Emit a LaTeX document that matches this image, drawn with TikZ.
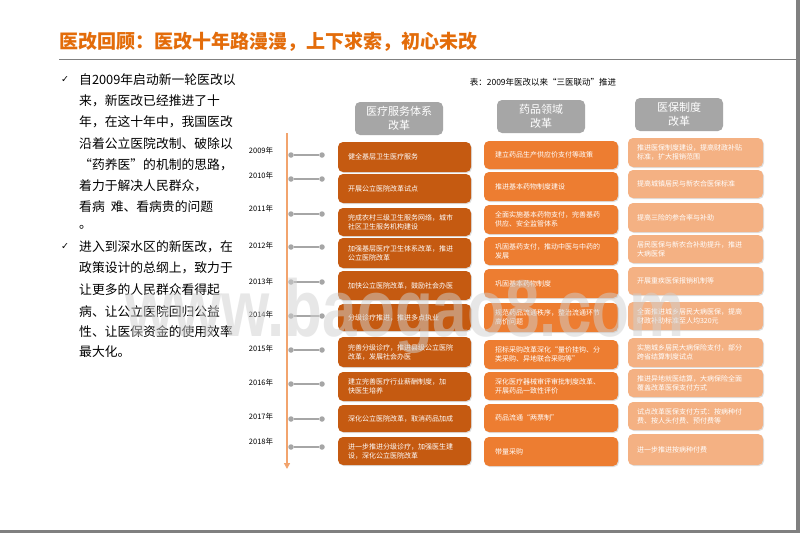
\documentclass[tikz,border=0pt]{standalone}
\usepackage{fontspec}
\setmainfont{Noto Sans CJK SC}
\newfontfamily\dejavu{DejaVu Sans}
\newfontfamily\wmfont{Liberation Sans}
\usetikzlibrary{shadows,arrows.meta}
\definecolor{cdark}{HTML}{C55A11}
\definecolor{cmid}{HTML}{ED7D31}
\definecolor{clight}{HTML}{F4B183}
\definecolor{hgray}{HTML}{A6A6A6}
\definecolor{ttl}{HTML}{E36C0A}
\definecolor{tline}{HTML}{F2A46E}
\definecolor{wm}{HTML}{D0D0D0}
\begin{document}
\begin{tikzpicture}[x=1pt,y=-1pt,
  cell/.style={rounded corners=5pt, text=white, align=left, inner ysep=0pt,
    font=\fontsize{7}{9}\selectfont,
    drop shadow={shadow xshift=1pt, shadow yshift=-1pt, opacity=0.25}},
  cA/.style={cell, fill=cdark, minimum width=133pt, text width=113pt, inner xsep=10pt},
  cB/.style={cell, fill=cmid, minimum width=134pt, text width=112pt, inner xsep=11pt},
  cC/.style={cell, fill=clight, minimum width=135pt, text width=117pt, inner xsep=9pt},
  head/.style={fill=hgray, rounded corners=5pt, text=white, align=center,
    font=\fontsize{11}{13.5}\selectfont, minimum width=88pt, minimum height=33pt, inner sep=0pt},
  yr/.style={font=\fontsize{7.5}{9}\selectfont, inner sep=0pt},
  dot/.style={circle, fill=hgray, inner sep=0pt, minimum size=5.5pt},
  conn/.style={draw=hgray, line width=1.3pt},
  body/.style={anchor=west, font=\fontsize{12.8}{15}\selectfont, inner sep=0pt},
  chk/.style={anchor=west, font=\dejavu\fontsize{9.5}{10}\selectfont, inner sep=0pt}
]
\useasboundingbox (0,0) rectangle (800,533);
\fill[white] (0,0) rectangle (800,533);
% frame shadow
\fill[gray] (796,0) rectangle (800,533);
\fill[gray] (0,530) rectangle (800,533);

% title
\node[anchor=west, inner sep=0pt, text=ttl, font=\fontsize{19}{22}\selectfont\bfseries] (title) at (59,42) {医改回顾：医改十年路漫漫，上下求索，初心未改};
\coordinate (r0) at (59,59);
\coordinate (r1) at (796,59);
\draw[gray, line width=1pt] (r0) -- (r1);

% left text
\node[chk] (k1) at (61,80) {✓};
\node[body] (l1) at (79,80) {自2009年启动新一轮医改以};
\node[body] (l2) at (79,101) {来，新医改已经推进了十};
\node[body] (l3) at (79,122) {年，在这十年中，我国医改};
\node[body] (l4) at (79,144) {沿着公立医院改制、破除以};
\node[body] (l5) at (79,165) {“药养医”的机制的思路，};
\node[body] (l6) at (79,186) {着力于解决人民群众，};
\node[body] (l7) at (79,207) {看病\hspace{6pt}难、看病贵的问题};
\node[body] (l8) at (79,227) {。};
\node[chk] (k2) at (61,247) {✓};
\node[body] (m1) at (79,247) {进入到深水区的新医改，在};
\node[body] (m2) at (79,268) {政策设计的总纲上，致力于};
\node[body] (m3) at (79,290) {让更多的人民群众看得起};
\node[body] (m4) at (79,312) {病、让公立医院回归公益};
\node[body] (m5) at (79,332) {性、让医保资金的使用效率};
\node[body] (m6) at (79,352) {最大化。};

% caption
\node[font=\fontsize{8.5}{10}\selectfont, inner sep=0pt] (cap) at (543,82) {表：2009年医改以来“三医联动”推进};

% headers
\node[head] (h1) at (399,118.5) {医疗服务体系\\改革};
\node[head] (h2) at (541,116.5) {药品领域\\改革};
\node[head] (h3) at (679,114.5) {医保制度\\改革};

% timeline
\coordinate (t0) at (287,133);
\coordinate (t1) at (287,469);
\draw[tline, line width=1.6pt, -{Triangle[width=6pt,length=6pt]}] (t0) -- (t1);

\foreach \yy/\ly/\cy in {2009/151/155,2010/176/179,2011/209/214,2012/246/247,2013/282/282,2014/315/316,2015/349/350,2016/383/384,2017/417/419,2018/442/447}{
  \node[yr] (y\yy) at (261,\ly) {\yy 年};
  \node[dot] (a\yy) at (291,\cy) {};
  \node[dot] (b\yy) at (322,\cy) {};
  \draw[conn] (a\yy) -- (b\yy);
}

% column 1
\node[cA, minimum height=30pt] (p1) at (404.5,157) {健全基层卫生医疗服务};
\node[cA, minimum height=29pt] (p2) at (404.5,188.5) {开展公立医院改革试点};
\node[cA, minimum height=28pt] (p3) at (404.5,222) {完成农村三级卫生服务网络，城市\\社区卫生服务机构建设};
\node[cA, minimum height=30pt] (p4) at (404.5,253) {加强基层医疗卫生体系改革，推进\\公立医院改革};
\node[cA, minimum height=29pt] (p5) at (404.5,285.5) {加快公立医院改革，鼓励社会办医};
\node[cA, minimum height=27pt] (p6) at (404.5,317.5) {分级诊疗推进，推进多点执业};
\node[cA, minimum height=30pt] (p7) at (404.5,352) {完善分级诊疗，推进县级公立医院\\改革，发展社会办医};
\node[cA, minimum height=29pt] (p8) at (404.5,386.5) {建立完善医疗行业薪酬制度，加\\快医生培养};
\node[cA, minimum height=27pt] (p9) at (404.5,418.5) {深化公立医院改革，取消药品加成};
\node[cA, minimum height=28pt] (p10) at (404.5,451) {进一步推进分级诊疗，加强医生建\\设，深化公立医院改革};

% column 2
\node[cB, minimum height=28pt] (q1) at (551,155) {建立药品生产供应价支付等政策};
\node[cB, minimum height=29pt] (q2) at (551,186.5) {推进基本药物制度建设};
\node[cB, minimum height=29pt] (q3) at (551,219.5) {全面实施基本药物支付，完善基药\\供应、安全监管体系};
\node[cB, minimum height=28pt] (q4) at (551,251) {巩固基药支付，推动中医与中药的\\发展};
\node[cB, minimum height=29pt] (q5) at (551,283.5) {巩固基本药物制度};
\node[cB, minimum height=29pt] (q6) at (551,317.5) {规范药品流通秩序，整治流通环节\\高价问题};
\node[cB, minimum height=29pt] (q7) at (551,354.5) {招标采购改革深化“量价挂钩、分\\类采购、异地联合采购等”};
\node[cB, minimum height=28pt] (q8) at (551,386) {深化医疗器械审评审批制度改革、\\开展药品一致性评价};
\node[cB, minimum height=28pt] (q9) at (551,418) {药品流通“两票制”};
\node[cB, minimum height=29pt] (q10) at (551,451.5) {带量采购};

% column 3
\node[cC, minimum height=29pt] (s1) at (695.5,152.5) {推进医保制度建设，提高财政补贴\\标准，扩大报销范围};
\node[cC, minimum height=28pt] (s2) at (695.5,184) {提高城镇居民与新农合医保标准};
\node[cC, minimum height=29pt] (s3) at (695.5,217.5) {提高三险的参合率与补助};
\node[cC, minimum height=28pt] (s4) at (695.5,249) {居民医保与新农合补助提升，推进\\大病医保};
\node[cC, minimum height=28pt] (s5) at (695.5,281) {开展重疾医保报销机制等};
\node[cC, minimum height=28pt] (s6) at (695.5,316) {全面推进城乡居民大病医保，提高\\财政补助标准至人均320元};
\node[cC, minimum height=29pt] (s7) at (695.5,352.5) {实施城乡居民大病保险支付，部分\\跨省结算制度试点};
\node[cC, minimum height=28pt] (s8) at (695.5,383) {推进异地就医结算，大病保险全面\\覆盖改革医保支付方式};
\node[cC, minimum height=28pt] (s9) at (695.5,416) {试点改革医保支付方式：按病种付\\费、按人头付费、预付费等};
\node[cC, minimum height=31pt] (s10) at (695.5,449.5) {进一步推进按病种付费};

% watermark
\node[anchor=base west, inner sep=0pt, font=\wmfont\bfseries\fontsize{62}{66}\selectfont,
  text=wm, text opacity=0.5, yscale=1.3] (wmk) at (125,336) {www.baogao8.com};
\end{tikzpicture}
\end{document}
